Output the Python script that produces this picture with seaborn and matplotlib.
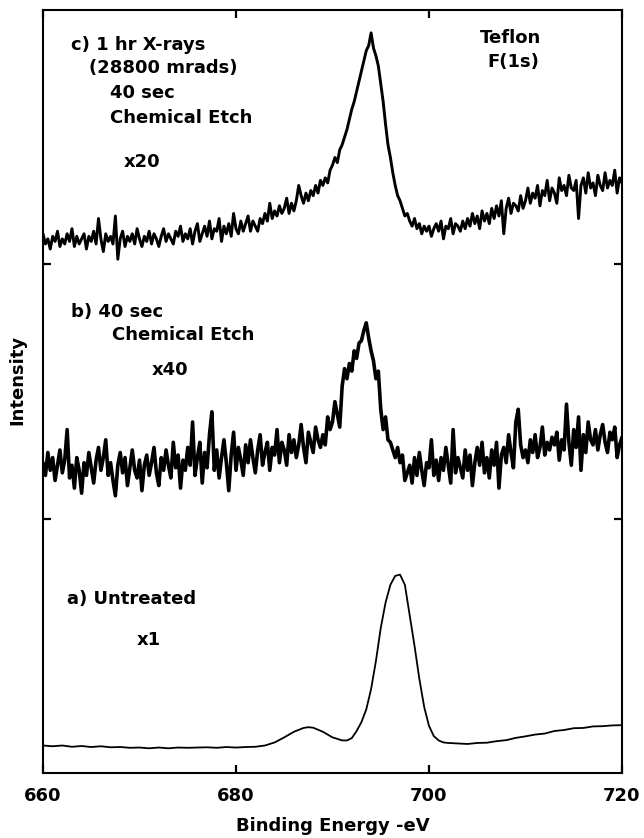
import numpy as np
import pandas as pd
import matplotlib
matplotlib.use("Agg")
import matplotlib.pyplot as plt
import seaborn as sns

sns.set_style("ticks")
plt.rcParams['font.family'] = ['DejaVu Sans']
plt.rcParams['font.weight'] = 'bold'

# binding energy grid for the noisy (b, c) scans, 0.25 eV steps
energy_bc = np.arange(660.0, 720.001, 0.25)

# a) untreated, x1 (panel units, 0-1)
energy_a = [660, 661, 662, 663, 664, 665, 666, 667, 668, 669, 670, 671, 672, 673, 674,
            675, 676, 677, 678, 679, 680, 681, 682, 683, 684, 685, 686, 687, 687.5, 688,
            689, 690, 691, 691.5, 692, 692.5, 693, 693.5, 694, 694.5, 695, 695.5, 696,
            696.5, 697, 697.5, 698, 698.5, 699, 699.5, 700, 700.5, 701, 701.5, 702, 703,
            704, 705, 706, 707, 708, 709, 710, 711, 712, 713, 714, 715, 716, 717, 718,
            719, 720]
intensity_a = [0.108, 0.105, 0.108, 0.103, 0.106, 0.102, 0.105, 0.101, 0.102, 0.099,
               0.100, 0.097, 0.100, 0.097, 0.100, 0.099, 0.100, 0.101, 0.099, 0.102,
               0.100, 0.102, 0.103, 0.108, 0.120, 0.140, 0.162, 0.177, 0.180, 0.178,
               0.162, 0.140, 0.128, 0.128, 0.137, 0.165, 0.200, 0.250, 0.330, 0.440,
               0.570, 0.670, 0.740, 0.775, 0.780, 0.740, 0.620, 0.500, 0.370, 0.260,
               0.185, 0.145, 0.128, 0.120, 0.118, 0.116, 0.114, 0.118, 0.119, 0.125,
               0.129, 0.138, 0.144, 0.151, 0.155, 0.165, 0.169, 0.176, 0.177, 0.183,
               0.184, 0.187, 0.188]

# b) 40 sec chemical etch, x40
intensity_b = [
    0.22, 0.17, 0.26, 0.19, 0.24, 0.15, 0.21, 0.27, 0.18, 0.23, 0.35, 0.16,
    0.21, 0.12, 0.24, 0.19, 0.10, 0.22, 0.17, 0.26, 0.20, 0.14, 0.23, 0.28,
    0.19, 0.24, 0.31, 0.17, 0.22, 0.15, 0.09, 0.21, 0.26, 0.18, 0.24, 0.13,
    0.20, 0.27, 0.19, 0.16, 0.23, 0.11, 0.21, 0.25, 0.17, 0.22, 0.28, 0.18,
    0.13, 0.24, 0.19, 0.27, 0.21, 0.16, 0.30, 0.20, 0.25, 0.12, 0.23, 0.19,
    0.28, 0.21, 0.38, 0.17, 0.24, 0.30, 0.14, 0.26, 0.20, 0.33, 0.42, 0.19,
    0.27, 0.16, 0.24, 0.31, 0.22, 0.11, 0.25, 0.34, 0.19, 0.28, 0.23, 0.17,
    0.29, 0.22, 0.31, 0.24, 0.18, 0.27, 0.33, 0.21, 0.26, 0.30, 0.19, 0.28,
    0.25, 0.35, 0.22, 0.30, 0.27, 0.21, 0.33, 0.26, 0.31, 0.24, 0.29, 0.37,
    0.28, 0.22, 0.34, 0.30, 0.26, 0.36, 0.31, 0.28, 0.33, 0.29, 0.40, 0.35,
    0.38, 0.46, 0.41, 0.36, 0.52, 0.59, 0.55, 0.61, 0.58, 0.66, 0.63, 0.69,
    0.70, 0.74, 0.77, 0.71, 0.66, 0.62, 0.55, 0.58, 0.43, 0.35, 0.40, 0.31,
    0.30, 0.27, 0.24, 0.28, 0.22, 0.25, 0.15, 0.18, 0.21, 0.14, 0.24, 0.17,
    0.26, 0.19, 0.13, 0.22, 0.20, 0.31, 0.17, 0.23, 0.15, 0.24, 0.19, 0.28,
    0.21, 0.14, 0.35, 0.18, 0.24, 0.20, 0.16, 0.27, 0.19, 0.25, 0.13, 0.22,
    0.28, 0.21, 0.30, 0.18, 0.24, 0.16, 0.27, 0.21, 0.30, 0.12, 0.25, 0.28,
    0.22, 0.33, 0.26, 0.20, 0.38, 0.43, 0.29, 0.24, 0.27, 0.22, 0.31, 0.26,
    0.33, 0.24, 0.28, 0.36, 0.25, 0.30, 0.27, 0.32, 0.29, 0.34, 0.23, 0.31,
    0.27, 0.45, 0.30, 0.21, 0.35, 0.28, 0.40, 0.19, 0.33, 0.26, 0.38, 0.31,
    0.29, 0.35, 0.27, 0.33, 0.37, 0.30, 0.26, 0.34, 0.31, 0.36, 0.24, 0.29,
    0.32]

# c) 1 hr X-rays + 40 sec chemical etch, x20
intensity_c = [
    0.12, 0.08, 0.10, 0.06, 0.11, 0.09, 0.13, 0.07, 0.10, 0.08, 0.12, 0.09,
    0.14, 0.07, 0.11, 0.08, 0.10, 0.12, 0.06, 0.11, 0.09, 0.13, 0.08, 0.18,
    0.10, 0.05, 0.12, 0.09, 0.11, 0.08, 0.19, 0.02, 0.10, 0.13, 0.07, 0.11,
    0.09, 0.12, 0.08, 0.14, 0.10, 0.07, 0.11, 0.09, 0.13, 0.08, 0.12, 0.10,
    0.07, 0.11, 0.14, 0.09, 0.12, 0.10, 0.08, 0.13, 0.11, 0.15, 0.09, 0.12,
    0.10, 0.14, 0.08, 0.13, 0.16, 0.09, 0.12, 0.15, 0.11, 0.17, 0.10, 0.14,
    0.13, 0.18, 0.09, 0.15, 0.12, 0.16, 0.11, 0.20, 0.14, 0.12, 0.17, 0.13,
    0.16, 0.19, 0.13, 0.17, 0.15, 0.13, 0.18, 0.16, 0.20, 0.17, 0.24, 0.18,
    0.21, 0.19, 0.23, 0.20, 0.22, 0.26, 0.20, 0.24, 0.21, 0.25, 0.31, 0.27,
    0.24, 0.28, 0.25, 0.29, 0.27, 0.31, 0.28, 0.33, 0.31, 0.34, 0.32, 0.37,
    0.39, 0.42, 0.40, 0.45, 0.47, 0.50, 0.53, 0.57, 0.61, 0.64, 0.68, 0.72,
    0.76, 0.80, 0.84, 0.86, 0.91, 0.85, 0.82, 0.78, 0.71, 0.64, 0.55, 0.47,
    0.42, 0.36, 0.31, 0.27, 0.25, 0.22, 0.19, 0.20, 0.17, 0.15, 0.18, 0.14,
    0.16, 0.12, 0.15, 0.13, 0.15, 0.11, 0.14, 0.16, 0.13, 0.17, 0.10, 0.15,
    0.14, 0.18, 0.12, 0.16, 0.15, 0.13, 0.17, 0.14, 0.18, 0.15, 0.20, 0.16,
    0.19, 0.14, 0.21, 0.17, 0.20, 0.16, 0.22, 0.18, 0.23, 0.19, 0.25, 0.12,
    0.22, 0.26, 0.20, 0.24, 0.23, 0.21, 0.27, 0.22, 0.25, 0.30, 0.24, 0.28,
    0.26, 0.31, 0.23, 0.29, 0.27, 0.33, 0.25, 0.30, 0.28, 0.24, 0.34, 0.29,
    0.31, 0.27, 0.35, 0.30, 0.29, 0.33, 0.18, 0.31, 0.34, 0.28, 0.36, 0.30,
    0.32, 0.27, 0.35, 0.31, 0.29, 0.36, 0.30, 0.33, 0.31, 0.37, 0.28, 0.34,
    0.32]

# stacking offsets (one panel unit per spectrum)
offsets = {'a': 0.0, 'b': 1.0, 'c': 2.0}

fig = plt.figure(figsize=(6.44, 8.38), dpi=100)
ax = fig.add_axes([0.0668, 0.0776, 0.899, 0.9105])

sns.lineplot(x=energy_a, y=np.array(intensity_a) + offsets['a'], ax=ax,
             color='black', lw=1.3, estimator=None, sort=False)
sns.lineplot(x=energy_bc, y=np.array(intensity_b) + offsets['b'], ax=ax,
             color='black', lw=2.6, estimator=None, sort=False)
sns.lineplot(x=energy_bc, y=np.array(intensity_c) + offsets['c'], ax=ax,
             color='black', lw=2.1, estimator=None, sort=False)

ax.set_xlim(660, 720)
ax.set_ylim(0, 3)
ax.set_xticks([660, 680, 700, 720])
ax.set_xticklabels(['660', '680', '700', '720'])
ax.set_yticks([1, 2])
ax.set_yticklabels([])
ax.tick_params(direction='in', length=6, width=1.6, top=True, right=True,
               labelsize=13, pad=10, colors='black')
for s in ax.spines.values():
    s.set_linewidth(1.5)
    s.set_color('black')

ax.set_xlabel('Binding Energy -eV', fontsize=13, fontweight='bold', color='black')
ax.xaxis.set_label_coords(0.5, -0.058)
ax.set_ylabel('Intensity', fontsize=13, fontweight='bold', color='black')
ax.yaxis.set_label_coords(-0.028, 0.515)

txt = dict(fontsize=13, fontweight='bold', color='black', va='center', ha='left')
ax.text(662.9, 2.863, 'c) 1 hr X-rays', **txt)
ax.text(664.8, 2.773, '(28800 mrads)', **txt)
ax.text(666.9, 2.674, '40 sec', **txt)
ax.text(666.9, 2.576, 'Chemical Etch', **txt)
ax.text(668.4, 2.403, 'x20', **txt)
ax.text(705.3, 2.89, 'Teflon', **txt)
ax.text(706.0, 2.796, 'F(1s)', **txt)
ax.text(662.9, 1.813, 'b) 40 sec', **txt)
ax.text(667.2, 1.722, 'Chemical Etch', **txt)
ax.text(671.3, 1.585, 'x40', **txt)
ax.text(662.5, 0.684, 'a) Untreated', **txt)
ax.text(669.7, 0.523, 'x1', **txt)

fig.savefig('out.png', dpi=100)
